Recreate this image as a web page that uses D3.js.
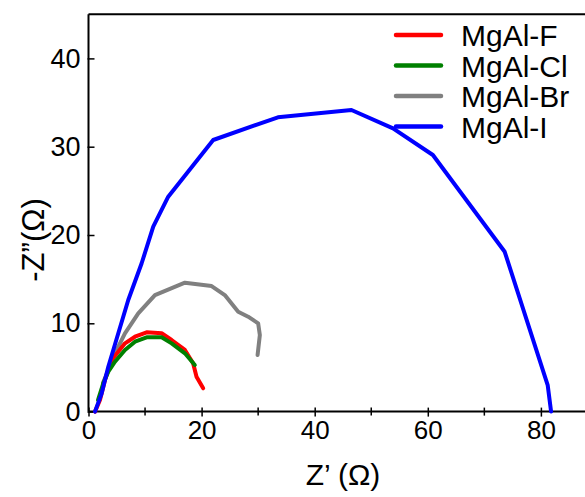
<!DOCTYPE html>
<html>
<head>
<meta charset="utf-8">
<script src="https://cdn.jsdelivr.net/npm/d3@7"></script>
<style>
  html, body { margin: 0; padding: 0; background: #fff; }
  svg { display: block; font-family: "Liberation Sans", Arial, sans-serif; }
</style>
</head>
<body>
<svg id="chart" width="585" height="497"></svg>
<script>
// ---- data (Z' in Ω, -Z'' in Ω) ----
const seriesNames = ["MgAl-F", "MgAl-Cl", "MgAl-Br", "MgAl-I"];
const seriesColors = ["#ff0000", "#008000", "#808080", "#0000ff"];

const zF = [[1.15,0],[2.03,1.31],[2.92,3.58],[4.1,5.84],[6.45,7.73],[8.22,8.48],[10.28,8.98],[12.93,8.87],[14.7,8.11],[17.05,6.98],[18.5,5.47],[19.1,3.95],[20.28,2.64]];
const zCl = [[1.68,1.3],[2.61,3.2],[3.5,4.52],[4.68,5.65],[6.45,6.98],[8.22,7.92],[10.28,8.41],[12.93,8.41],[14.7,7.73],[17.05,6.6],[18.8,5.28]];
const zBr = [[2.56,3.23],[3.5,4.71],[4.68,6.6],[6.45,8.87],[8.8,11.13],[11.75,13.2],[17.05,14.6],[21.77,14.22],[24.1,13.2],[26.47,11.31],[28.23,10.75],[30.0,10.0],[30.3,8.67],[29.9,6.41]];
const zI = [[1.15,0],[2.33,2.07],[3.5,5.08],[5.27,8.87],[7.03,12.64],[9.4,16.8],[11.45,20.94],[14.1,24.34],[22.05,30.76],[33.5,33.33],[46.5,34.16],[53.85,32.08],[60.9,29.06],[73.6,18.1],[81.2,3.0],[81.8,0]];

const xTicks = [0, 20, 40, 60, 80];
const xMinorTicks = [10, 30, 50, 70];
const yTicks = [0, 10, 20, 30, 40];
const xTitle = "Z\u2019 (\u03A9)";
const yTitle = "-Z\u201D(\u03A9)";

// ---- layout ----
const svg = d3.select("#chart");
const mLeft = 88.5, mBottom = 411.6, mRight = 585;
const x = d3.scaleLinear().domain([0, 87.8]).range([mLeft, mRight]);
const y = d3.scaleLinear().domain([0, 45]).range([mBottom, mBottom - 45 * 8.83]);

// frame: left axis + top line
svg.append("line").attr("x1", mLeft).attr("x2", mLeft).attr("y1", y(45)).attr("y2", mBottom)
  .attr("stroke", "#000").attr("stroke-width", 2);
svg.append("line").attr("x1", mLeft).attr("x2", mRight).attr("y1", y(45)).attr("y2", y(45))
  .attr("stroke", "#000").attr("stroke-width", 2);

// x axis
const xAxis = svg.append("g").attr("transform", `translate(0,${mBottom})`)
  .call(d3.axisBottom(x).tickValues(xTicks).tickSize(0).tickPadding(9).tickFormat(d3.format("d")));
xAxis.select(".domain").attr("stroke", "#000").attr("stroke-width", 2).attr("d", `M${mLeft},0H${mRight}`);
xAxis.selectAll(".tick text").attr("font-size", 26).attr("fill", "#000").attr("font-family", "Liberation Sans, Arial, sans-serif");
xAxis.selectAll(".tick").append("line").attr("y1", -4).attr("y2", 5).attr("stroke", "#000").attr("stroke-width", 1.5);
svg.append("g").attr("transform", `translate(0,${mBottom})`)
  .selectAll("line").data(xMinorTicks).join("line")
  .attr("x1", d => x(d)).attr("x2", d => x(d)).attr("y1", -4).attr("y2", 4)
  .attr("stroke", "#000").attr("stroke-width", 1.5);

// y axis
const yAxis = svg.append("g").attr("transform", `translate(${mLeft},0)`)
  .call(d3.axisLeft(y).tickValues(yTicks).tickSize(0).tickPadding(8).tickFormat(d3.format("d")));
yAxis.select(".domain").remove();
yAxis.selectAll(".tick text").attr("font-size", 27).attr("fill", "#000").attr("font-family", "Liberation Sans, Arial, sans-serif");
yAxis.selectAll(".tick").append("line").attr("x1", -1).attr("x2", 6).attr("stroke", "#000").attr("stroke-width", 1.5);

// titles
svg.append("text").attr("x", 343).attr("y", 485).attr("text-anchor", "middle")
  .attr("font-size", 30).attr("fill", "#000").text(xTitle);
svg.append("text").attr("transform", `translate(44,${240}) rotate(-90)`).attr("text-anchor", "middle")
  .attr("font-size", 31).attr("fill", "#000").text(yTitle);

// curves
const line = d3.line().x(d => x(d[0])).y(d => y(d[1])).curve(d3.curveLinear);
const drawOrder = [[zBr, 2], [zF, 0], [zCl, 1], [zI, 3]];
const plot = svg.append("g");
drawOrder.forEach(([data, i]) => {
  plot.append("path").datum(data).attr("d", line)
    .attr("fill", "none").attr("stroke", seriesColors[i]).attr("stroke-width", 4)
    .attr("stroke-linejoin", "round").attr("stroke-linecap", "round");
});

// legend
const legend = svg.append("g");
seriesNames.forEach((name, i) => {
  const ly = 35 + i * 30.5;
  legend.append("line").attr("x1", 396).attr("x2", 441).attr("y1", ly).attr("y2", ly)
    .attr("stroke", seriesColors[i]).attr("stroke-width", 4.5).attr("stroke-linecap", "round");
  legend.append("text").attr("x", 461).attr("y", ly + 11).attr("font-size", 30)
    .attr("fill", "#000").text(name);
});
</script>
</body>
</html>
